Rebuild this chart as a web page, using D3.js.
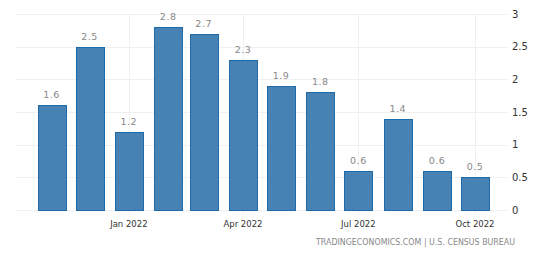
<!DOCTYPE html>
<html>
<head>
<meta charset="utf-8">
<script src="https://cdn.jsdelivr.net/npm/d3@7"></script>
<style>
  body { margin: 0; background: #fff; }
  text { font-family: "DejaVu Sans", Verdana, sans-serif; }
</style>
</head>
<body>
<div id="chart"></div>
<script>
// monthly % change, Nov 2021 .. Oct 2022
const months = ["2021-11", "2021-12", "2022-01", "2022-02", "2022-03", "2022-04",
                "2022-05", "2022-06", "2022-07", "2022-08", "2022-09", "2022-10"]
const values = [1.6, 2.5, 1.2, 2.8, 2.7, 2.3, 1.9, 1.8, 0.6, 1.4, 0.6, 0.5]
const yTicks = [0, 0.5, 1, 1.5, 2, 2.5, 3]
const xTicks = ["2022-01", "2022-04", "2022-07", "2022-10"]
const source = "TRADINGECONOMICS.COM | U.S. CENSUS BUREAU"

const width = 550, height = 256
const margin = {left: 16, right: 42, top: 14, bottom: 46}
const parse = d3.timeParse("%Y-%m")

const data = months.map((m, i) => ({date: parse(m), value: values[i]}))

const svg = d3.select("#chart").append("svg")
    .attr("width", width)
    .attr("height", height)

const x = d3.scaleTime()
    .domain([d3.timeDay.offset(data[0].date, -28), d3.timeDay.offset(data[data.length - 1].date, 26)])
    .range([margin.left, width - margin.right])

const y = d3.scaleLinear()
    .domain([0, 3])
    .range([height - margin.bottom, margin.top])

const barW = 28

// grid
svg.append("g")
    .selectAll("line.h")
    .data(yTicks)
    .join("line")
    .attr("x1", margin.left)
    .attr("x2", width - margin.right)
    .attr("y1", d => Math.round(y(d)) + 0.5)
    .attr("y2", d => Math.round(y(d)) + 0.5)
    .attr("stroke", "#f0f0f0")

svg.append("g")
    .selectAll("line.v")
    .data(xTicks.map(parse))
    .join("line")
    .attr("x1", d => Math.round(x(d)) + 0.5)
    .attr("x2", d => Math.round(x(d)) + 0.5)
    .attr("y1", margin.top)
    .attr("y2", y(0) + 5)
    .attr("stroke", "#f0f0f0")

// bars
svg.append("g")
    .selectAll("rect")
    .data(data)
    .join("rect")
    .attr("x", d => Math.round(x(d.date) - barW / 2) + 0.5)
    .attr("y", d => Math.round(y(d.value)) + 0.5)
    .attr("width", barW)
    .attr("height", d => Math.round(y(0)) - Math.round(y(d.value)))
    .attr("fill", "#4682b4")
    .attr("stroke", "#1f6aa8")
    .attr("stroke-width", 1)

// value labels
svg.append("g")
    .selectAll("text")
    .data(data)
    .join("text")
    .attr("x", d => x(d.date))
    .attr("y", d => y(d.value) - 7)
    .attr("text-anchor", "middle")
    .attr("font-size", "9.5px")
    .attr("letter-spacing", "0.5px")
    .attr("fill", "#888")
    .text(d => d.value)

// y axis on right
svg.append("g")
    .selectAll("text")
    .data(yTicks)
    .join("text")
    .attr("x", width - margin.right + 4)
    .attr("y", d => y(d) + 3.5)
    .attr("font-size", "10px")
    .attr("fill", "#333")
    .text(d => d)

// x axis labels
const fmt = d3.timeFormat("%b %Y")
svg.append("g")
    .selectAll("text")
    .data(xTicks.map(parse))
    .join("text")
    .attr("x", d => x(d))
    .attr("y", y(0) + 17)
    .attr("text-anchor", "middle")
    .attr("font-size", "8.5px")
    .attr("fill", "#333")
    .text(d => fmt(d))

svg.append("text")
    .attr("x", 316)
    .attr("y", 245)
    .attr("font-size", "8.5px")
    .attr("textLength", 199)
    .attr("lengthAdjust", "spacingAndGlyphs")
    .attr("fill", "#888")
    .text(source)
</script>
</body>
</html>
